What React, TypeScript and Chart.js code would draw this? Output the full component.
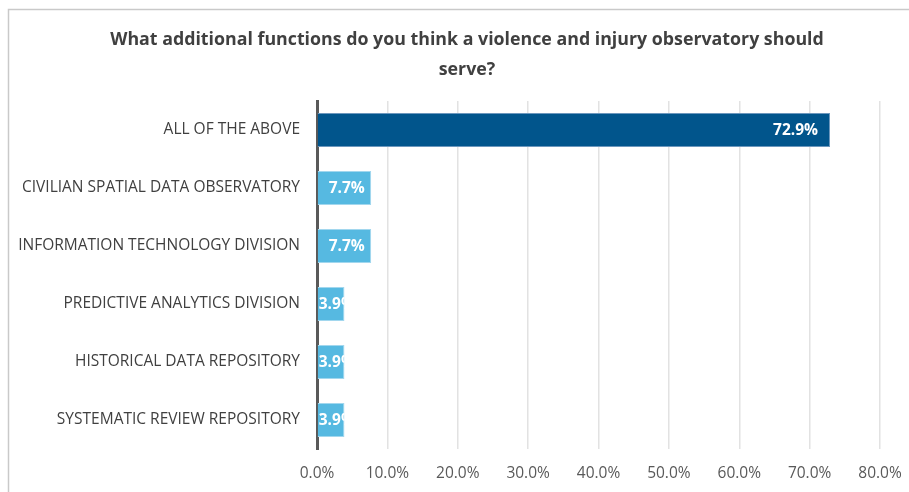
import React, { useEffect, useRef } from "react";
import { Chart, registerables } from "chart.js";

Chart.register(...registerables);

const titleLines = [
  "What additional functions do you think a violence and injury observatory should",
  "serve?",
];
const categories = [
  "ALL OF THE ABOVE",
  "CIVILIAN SPATIAL DATA OBSERVATORY",
  "INFORMATION TECHNOLOGY DIVISION",
  "PREDICTIVE ANALYTICS DIVISION",
  "HISTORICAL DATA REPOSITORY",
  "SYSTEMATIC REVIEW REPOSITORY",
];
const values = [72.9, 7.7, 7.7, 3.9, 3.9, 3.9];
const barColors = ["#01558C", "#56B9E1", "#56B9E1", "#56B9E1", "#56B9E1", "#56B9E1"];
const barBorders = ["#6C97BD", "#A2D7EE", "#A2D7EE", "#A2D7EE", "#A2D7EE", "#A2D7EE"];
const xMin = 0;
const xMax = 80;
const xStep = 10;

const FONT = "'Open Sans', sans-serif";

const framePlugin = {
  id: "frame",
  beforeDraw(chart: any) {
    const ctx = chart.ctx;
    ctx.save();
    ctx.fillStyle = "#ffffff";
    ctx.fillRect(0, 0, chart.width, chart.height);
    ctx.strokeStyle = "#C9C9C9";
    ctx.lineWidth = 1.5;
    ctx.beginPath();
    ctx.moveTo(8.5, chart.height + 5);
    ctx.lineTo(8.5, 9.5);
    ctx.lineTo(chart.width + 5, 9.5);
    ctx.stroke();
    ctx.restore();
  },
  afterDraw(chart: any) {
    const ctx = chart.ctx;
    ctx.save();
    ctx.fillStyle = "#404040";
    ctx.font = `bold 17.8px ${FONT}`;
    ctx.textAlign = "center";
    ctx.textBaseline = "middle";
    ctx.fillText(titleLines[0], 467, 40);
    ctx.fillText(titleLines[1], 467, 70);
    ctx.restore();
  },
};

const labelPlugin = {
  id: "barLabels",
  afterDatasetsDraw(chart: any) {
    const ctx = chart.ctx;
    const meta = chart.getDatasetMeta(0);
    ctx.save();
    ctx.font = `bold 15.5px ${FONT}`;
    ctx.fillStyle = "#ffffff";
    ctx.textBaseline = "middle";
    ctx.textAlign = "left";
    meta.data.forEach((bar: any, i: number) => {
      const text = values[i].toFixed(1) + "%";
      const w = ctx.measureText(text).width;
      const left = Math.min(bar.base, bar.x);
      const right = Math.max(bar.base, bar.x);
      const bw = right - left;
      const pad = Math.min(12, bw * 0.12);
      const tx = Math.max(right - pad - w, left + 1);
      ctx.save();
      ctx.beginPath();
      ctx.rect(left, bar.y - bar.height / 2, bw, bar.height);
      ctx.clip();
      ctx.fillText(text, tx, bar.y + 1);
      ctx.restore();
    });
    ctx.restore();
  },
};

export default function App() {
  const ref = useRef<HTMLCanvasElement>(null);
  useEffect(() => {
    if (!ref.current) return;
    const chart = new Chart(ref.current, {
      type: "bar",
      data: {
        labels: categories,
        datasets: [
          {
            data: values,
            backgroundColor: barColors,
            borderColor: barBorders,
            borderWidth: 1,
            borderSkipped: "start",
            barPercentage: 0.59,
            categoryPercentage: 1,
          },
        ],
      },
      options: {
        indexAxis: "y",
        animation: false,
        responsive: false,
        maintainAspectRatio: false,
        layout: { padding: { top: 101, right: 29, bottom: 8, left: 0 } },
        plugins: {
          legend: { display: false },
          title: { display: false },
          tooltip: { enabled: false },
        },
        scales: {
          x: {
            min: xMin,
            max: xMax,
            ticks: {
              stepSize: xStep,
              padding: 15,
              color: "#595959",
              font: { family: FONT, size: 15.5 },
              callback: (v: any) => Number(v).toFixed(1) + "%",
            },
            grid: { color: "#E2E2E2", lineWidth: 1.5, drawTicks: false },
            border: { display: false },
            afterFit: (s: any) => {
              s.height = 35;
              s.paddingLeft = 0;
              s.paddingRight = 0;
            },
          },
          y: {
            ticks: {
              padding: 17,
              color: "#404040",
              font: { family: FONT, size: 15.5 },
            },
            grid: { display: false, drawTicks: false },
            border: { display: true, color: "#595959", width: 3 },
            afterFit: (s: any) => {
              s.width = 317;
              s.paddingTop = 0;
              s.paddingBottom = 0;
            },
          },
        },
      },
      plugins: [framePlugin, labelPlugin],
    });
    return () => chart.destroy();
  }, []);
  return (
    <div style={{ position: "absolute", left: 0, top: 0, width: 909, height: 492 }}>
      <canvas ref={ref} width={909} height={492} style={{ width: 909, height: 492 }} />
    </div>
  );
}
